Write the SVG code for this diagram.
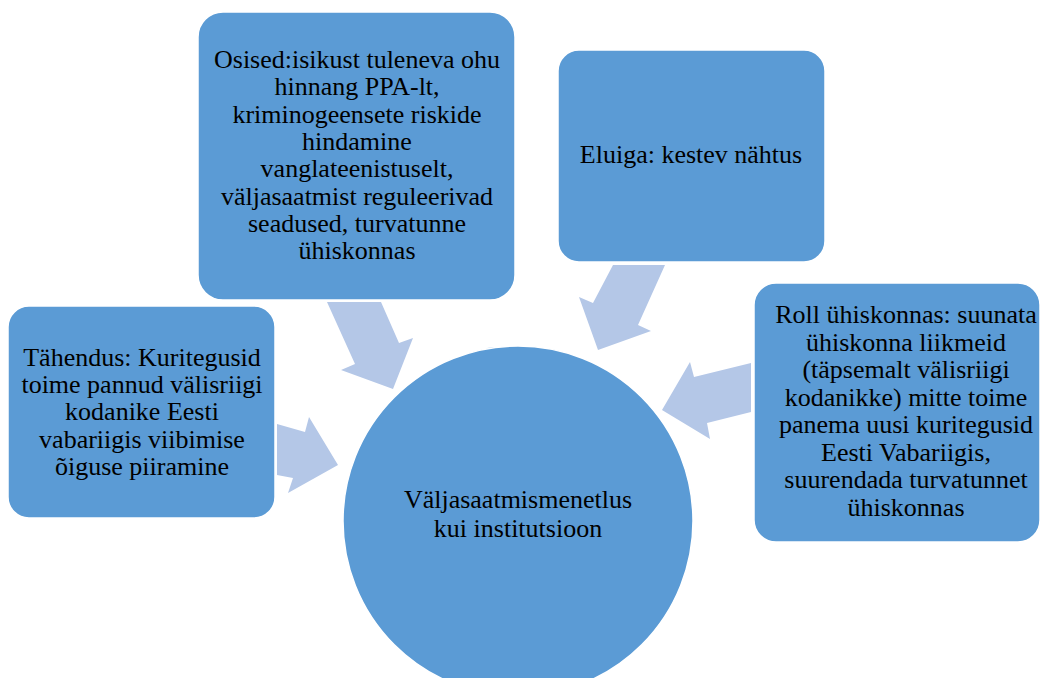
<svg xmlns="http://www.w3.org/2000/svg" width="1044" height="678" viewBox="0 0 1044 678">
<style>
.node{fill:#5B9BD5;stroke:#FFFFFF;stroke-width:1.5}
.arrow{fill:#B4C7E7;stroke:none}
.t{font-family:"Liberation Serif","Times New Roman",serif;font-size:26px;fill:#000000;text-anchor:middle}
</style>
<rect width="1044" height="678" fill="#FFFFFF"/>
<g id="connectors">
<polygon class="arrow" points="277,424 305,432 309,417 338,465 288,493 293,478 277,475"/>
<polygon class="arrow" points="327,302 381,302 399,343 413,338 393,389 341,370 355,364"/>
<polygon class="arrow" points="665,265 613,265 593,303 579,297 598,350 651,331 638,325"/>
<polygon class="arrow" points="751,363 694,377 690,362 662,410 710,439 707,423 751,412"/>
</g>
<g id="center">
<circle class="node" cx="518" cy="521" r="175"/>
<text class="t" x="518" y="508">Väljasaatmismenetlus</text>
<text class="t" x="518" y="537">kui institutsioon</text>
</g>
<g id="tahendus">
<rect class="node" x="8" y="306" width="267" height="212" rx="21"/>
<text class="t" x="142" y="366">Tähendus: Kuritegusid</text>
<text class="t" x="142" y="393">toime pannud välisriigi</text>
<text class="t" x="142" y="420">kodanike Eesti</text>
<text class="t" x="142" y="448">vabariigis viibimise</text>
<text class="t" x="142" y="475">õiguse piiramine</text>
</g>
<g id="osised">
<rect class="node" x="198" y="12" width="317" height="288" rx="25"/>
<text class="t" x="357" y="68">Osised:isikust tuleneva ohu</text>
<text class="t" x="357" y="95">hinnang PPA-lt,</text>
<text class="t" x="357" y="123">kriminogeensete riskide</text>
<text class="t" x="357" y="150">hindamine</text>
<text class="t" x="357" y="177">vanglateenistuselt,</text>
<text class="t" x="357" y="205">väljasaatmist reguleerivad</text>
<text class="t" x="357" y="232">seadused, turvatunne</text>
<text class="t" x="357" y="259">ühiskonnas</text>
</g>
<g id="eluiga">
<rect class="node" x="558" y="50" width="267" height="212" rx="21"/>
<text class="t" x="691" y="163">Eluiga: kestev nähtus</text>
</g>
<g id="roll">
<rect class="node" x="754" y="283" width="286" height="259" rx="22"/>
<text class="t" x="906" y="323">Roll ühiskonnas: suunata</text>
<text class="t" x="906" y="351">ühiskonna liikmeid</text>
<text class="t" x="906" y="378">(täpsemalt välisriigi</text>
<text class="t" x="906" y="406">kodanikke) mitte toime</text>
<text class="t" x="906" y="433">panema uusi kuritegusid</text>
<text class="t" x="906" y="461">Eesti Vabariigis,</text>
<text class="t" x="906" y="488">suurendada turvatunnet</text>
<text class="t" x="906" y="516">ühiskonnas</text>
</g>
</svg>
